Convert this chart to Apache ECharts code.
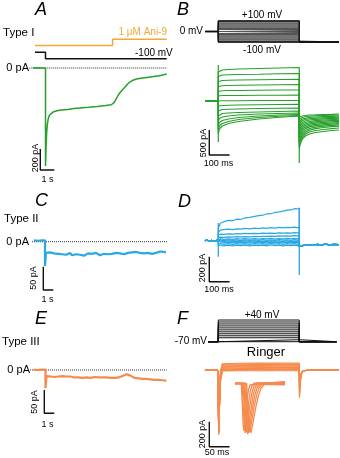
<!DOCTYPE html>
<html><head><meta charset="utf-8">
<script src="https://cdn.jsdelivr.net/npm/echarts@6/dist/echarts.min.js"></script>
<style>html,body{margin:0;padding:0;background:#fff}#c{width:340px;height:458px}</style>
</head><body><div id="c"></div>
<script>
// ================= DATA =================
// Panel A  (Type I) : time (s), current (pA)
const aTime = [-0.9,-0.6,-0.3,0,0,0.04,0.08,0.13,0.2,0.28,0.4,0.55,0.75,1.0,1.3,1.6,1.9,2.2,2.5,2.8,3.1,3.4,3.7,4.0,4.3,4.55,4.7,4.8,4.9,5.0,5.1,5.2,5.3,5.4,5.5,5.65,5.8,6.0,6.25,6.5,6.8,7.1,7.4,7.7,8.0,8.3,8.66];
const aCurrent = [0,2,-1,0,-933,-760,-620,-540,-480,-450,-432,-418,-410,-402,-398,-394,-388,-384,-380,-376,-373,-369,-366,-362,-358,-352,-350,-346,-330,-305,-282,-258,-238,-222,-208,-186,-162,-136,-116,-104,-97,-92,-87,-82,-76,-68,-58];
const aVoltTime = [-0.75,0,0,8.66];
const aVolt = [0,0,-100,-100];              // mV
const aAniTime = [-0.75,4.79,4.79,8.66];
const aAniConc = [0,0,1,1];                 // µM Ani-9

// Panel B (Type I, I-V family) : time (ms), current (pA)
const bVLevels = [-100,-90,-80,-70,-60,-50,-40,-30,-20,-10,0,10,20,30,40,50,60,70,80,90,100];
const bPreTime = -65;
const bTimes = [0,5,20,50,100,200,300,400];
const bSteps = [
 [580,610,620,630,640,650,660,670],
 [490,510,520,525,530,535,545,550],
 [390,400,410,415,420,425,430,435],
 [290,300,305,310,315,320,325,330],
 [190,200,205,210,210,215,220,220],
 [100,105,110,110,110,115,115,120],
 [0,0,5,5,5,10,10,10],
 [-100,-95,-90,-85,-80,-75,-70,-65],
 [-200,-180,-170,-165,-160,-150,-145,-140],
 [-300,-270,-250,-240,-230,-220,-210,-200],
 [-400,-350,-320,-300,-280,-260,-250,-240],
 [-500,-430,-390,-360,-330,-300,-280,-270],
 [-580,-500,-450,-410,-370,-330,-305,-290],
 [-660,-560,-500,-450,-410,-360,-325,-300]
];
const bTailTimes = [400,405,415,430,450,480,520,560,596];
const bTails = [
 [-320,-310,-300,-290,-280,-276,-270,-266,-260],
 [-360,-345,-330,-315,-305,-295,-290,-285,-280],
 [-400,-380,-360,-345,-330,-320,-312,-306,-300],
 [-440,-415,-390,-370,-355,-343,-335,-328,-322],
 [-490,-455,-425,-400,-380,-366,-356,-348,-342],
 [-540,-495,-460,-430,-410,-392,-380,-371,-364],
 [-590,-535,-495,-460,-435,-417,-404,-394,-386],
 [-640,-580,-530,-490,-462,-442,-428,-417,-408],
 [-690,-625,-565,-522,-490,-468,-452,-440,-430],
 [-740,-670,-600,-553,-518,-494,-476,-463,-452],
 [-790,-715,-640,-590,-550,-522,-502,-488,-476],
 [-840,-760,-680,-625,-583,-552,-530,-514,-502],
 [-890,-810,-720,-662,-620,-590,-570,-552,-540],
 [-940,-860,-760,-700,-660,-630,-610,-590,-580]
];
const bOnTransient = [720,-820];
const bOffTransient = [-300,-1240];

// Panel C (Type II) : time (s), current (pA)
const cTime = [-1.1,-0.9,-0.7,-0.5,-0.3,-0.1,0,0,0.1,0.3,0.5,0.7,0.9,1.1,1.3,1.5,1.7,1.9,2.1,2.3,2.5,2.7,2.9,3.1,3.3,3.5,3.7,3.9,4.1,4.3,4.5,4.7,4.9,5.1,5.3,5.5,5.7,5.9,6.1,6.3,6.5,6.7,6.9,7.1,7.3,7.5,7.7,7.9,8.1,8.3,8.5,8.7,8.9,9.1,9.3,9.5,9.7,9.9,10.1,10.3,10.5,10.7,10.9,11.1,11.3,11.5,11.7,11.9,12.1];
const cCurrent = [3,5,2,6,3,5,3,-52,-24,-21,-23,-22,-25,-23,-26,-24,-27,-25,-28,-26,-24,-29,-26,-27,-25,-28,-26,-30,-27,-25,-28,-26,-27,-24,-26,-29,-25,-26,-24,-27,-25,-26,-28,-24,-26,-25,-23,-27,-25,-24,-26,-23,-25,-22,-26,-24,-23,-25,-22,-24,-23,-26,-22,-24,-23,-21,-24,-22,-23];

// Panel D (Type II, I-V family) : time (ms), current (pA)
const dPreTime = [-66,-55,-44,-33,-22,-11,0];
const dPre = [0,4,-3,3,-4,2,0];
const dTimes = [0,10,25,50,72,90,110,130,155,180,200,220,238,260,280,300,320,340,360,375,388,400];
const dSteps = [
 [99,140,150,162,160,172,170,182,186,194,200,204,214,216,226,230,236,244,246,256,254,262],
 [70,84,88,92,88,94,92,98,94,100,97,102,99,104,101,106,102,106,104,108,105,107],
 [46,52,50,55,53,57,54,58,56,59,57,60,58,61,59,62,60,63,61,64,62,64],
 [24,28,27,31,29,32,30,33,31,34,33,35,34,37,35,38,36,39,37,40,38,40],
 [12,16,10,15,11,16,12,17,13,16,12,17,14,18,13,17,14,18,15,19,14,18],
 [4,6,0,7,2,6,1,7,3,6,2,8,3,7,2,8,4,7,3,8,4,6],
 [-6,-2,-8,-1,-7,-3,-8,-2,-6,-1,-7,-3,-8,-2,-6,-1,-7,-2,-8,-3,-6,-4],
 [-16,-10,-18,-12,-17,-11,-16,-12,-18,-11,-15,-12,-17,-11,-16,-12,-18,-12,-15,-11,-16,-13],
 [-28,-22,-30,-24,-29,-23,-28,-24,-30,-23,-27,-24,-29,-22,-28,-24,-30,-23,-27,-24,-28,-26],
 [-40,-34,-42,-36,-41,-35,-40,-36,-42,-35,-39,-36,-41,-34,-40,-36,-42,-35,-39,-36,-40,-38]
];
const dTailTimes = [400,405,415,430,450,470,490,510,530,550,570,596];
const dTail = [-48,-44,-40,-36,-32,-36,-30,-34,-28,-33,-30,-32];
const dOnTransient = [142,-128];
const dOffTransient = [262,-275];

// Panel E (Type III) : time (s), current (pA)
const eTime = [-1.2,-1.0,-0.8,-0.6,-0.4,-0.2,0,0,0.1,0.3,0.5,0.7,0.9,1.1,1.3,1.5,1.7,1.9,2.1,2.3,2.5,2.7,2.9,3.1,3.3,3.5,3.7,3.9,4.1,4.3,4.5,4.7,4.9,5.1,5.3,5.5,5.7,5.9,6.1,6.3,6.5,6.7,6.9,7.1,7.3,7.5,7.7,7.9,8.1,8.3,8.5,8.7,8.9,9.1,9.3,9.5,9.7,9.9,10.1,10.3,10.5,10.7,10.9,11.1,11.3,11.5,11.7,11.9,12.1];
const eCurrent = [1,3,0,2,1,3,1,-39,-13,-12,-14,-13,-15,-13,-14,-15,-13,-15,-14,-16,-14,-15,-16,-14,-16,-15,-17,-15,-16,-15,-17,-16,-15,-17,-16,-18,-16,-17,-16,-18,-17,-16,-17,-15,-16,-14,-13,-11,-9,-10,-12,-15,-17,-16,-18,-17,-19,-18,-19,-18,-20,-19,-21,-20,-21,-20,-22,-21,-23];

// Panel F (Type III, Ringer) : time (ms), current (pA)
const fVLevels = [-70,-60,-50,-40,-30,-20,-10,0,10,20,30,40];
const fPreTime = [-33,-29,-25,-21,-17,-13,-9,-5,-1,0];
const fPre = [0,3,-2,2,-3,3,-1,2,-2,0];
const fStepTimes = [0,1,5,10,50,100,150,200];
const fSteps = [
 [0,-520,-20,50,54,55,56,56],
 [0,-505,-30,44,48,49,50,50],
 [0,-495,-40,38,42,43,44,44],
 [0,-510,-45,32,36,37,38,38],
 [0,-490,-50,26,30,31,32,32],
 [0,-500,-55,20,24,25,26,26],
 [0,-480,-60,14,18,19,20,20],
 [0,-470,-60,8,12,13,14,14],
 [0,-460,-70,4,7,8,8,9],
 [0,-440,-80,0,3,4,4,4],
 [0,-420,-90,-4,-1,0,0,0],
 [0,-380,-100,-8,-6,-6,-6,-6]
];
const fOffSpike = [-222,-200,-180,-160,-140,-120,-100,-90,-80,-70,-60,-50];
const fTailTimes = [204,208,215,230,245,260,275,290,298];
const fTail = [-40,-12,-4,2,-2,3,-2,2,0];
// inset (Na currents, expanded time base) : time (ms), current (pA)
const fInset = [
 [[-0.6,0],[0.03,0],[0.15,-200],[0.22,-340],[0.3,-380],[0.45,-252],[0.6,-132],[0.75,-52],[0.9,-12],[1.1,4],[4.4,14]],
 [[-0.6,0],[0.12,0],[0.24,-210],[0.35,-360],[0.43,-396],[0.6,-270],[0.77,-150],[0.93,-60],[1.1,-16],[1.3,2],[4.4,10]],
 [[-0.6,0],[0.21,0],[0.33,-200],[0.46,-350],[0.55,-388],[0.73,-275],[0.92,-160],[1.1,-70],[1.3,-20],[1.55,2],[4.4,6]],
 [[-0.6,0],[0.3,0],[0.42,-210],[0.57,-365],[0.66,-404],[0.85,-290],[1.05,-175],[1.25,-80],[1.47,-25],[1.75,0],[4.4,2]],
 [[-0.6,0],[0.39,0],[0.51,-200],[0.68,-360],[0.77,-396],[0.97,-290],[1.18,-180],[1.4,-90],[1.63,-30],[1.95,-2],[4.4,-2]],
 [[-0.6,0],[0.48,0],[0.6,-195],[0.79,-350],[0.88,-388],[1.1,-290],[1.32,-185],[1.56,-95],[1.8,-35],[2.15,-4],[4.4,-6]],
 [[-0.6,0],[0.57,0],[0.7,-200],[0.91,-360],[1.0,-396],[1.23,-300],[1.47,-195],[1.72,-105],[1.98,-40],[2.35,-6],[4.4,-10]]
];

// ================= BUILD =================
const GREEN='#26a02a', BLUE='#2aa8e2', ORANGE='#f68a4c', ANI='#f3a935', BLACK='#111';
const FONT='"Liberation Sans", Arial, sans-serif';
const grids=[], xAxes=[], yAxes=[], series=[], graphics=[];
function panel(rect, xa, ya){
  const gi=grids.length;
  grids.push({left:rect[0],top:rect[1],width:rect[2],height:rect[3],show:false,containLabel:false});
  xAxes.push({type:'value',gridIndex:gi,show:false,min:xa[1]-(xa[0]-rect[0])*xa[2],max:xa[1]+(rect[0]+rect[2]-xa[0])*xa[2]});
  yAxes.push({type:'value',gridIndex:gi,show:false,min:ya[1]-(rect[1]+rect[3]-ya[0])*ya[2],max:ya[1]+(ya[0]-rect[1])*ya[2]});
  return gi;
}
function line(gi, pts, color, width, dash, z){
  series.push({type:'line',xAxisIndex:gi,yAxisIndex:gi,data:pts,symbol:'none',showSymbol:false,silent:true,
    animation:false,z:z||2,lineStyle:{color:color,width:width,type:dash||'solid'}});
}
const zip=(xs,ys)=>xs.map((x,i)=>[x,ys[i]]);
function scaleBar(gi,x0,yTop,yLen,xLen){
  line(gi,[[x0,yTop],[x0,yTop-yLen],[x0+xLen,yTop-yLen]],BLACK,1.4,null,5);
}
function txt(s,x,y,size,opt){
  opt=opt||{};
  graphics.push({type:'text',x:x,y:y,rotation:opt.rot||0,silent:true,z:10,
    style:{text:s,fill:opt.color||'#000',font:(opt.italic?'italic ':'')+size+'px '+FONT,
      align:opt.align||'left',textAlign:opt.align||'left',verticalAlign:'middle',textVerticalAlign:'middle'}});
}

// ---- Panel A ----
const gAv = panel([25,28,150,35],[45.5,0,1/14],[52.3,0,15.625]);
const gAs = panel([25,28,150,35],[45.5,0,1/14],[45.6,0,1/6.3]);
const gA  = panel([25,60,150,130],[45.5,0,1/14],[68,0,9.52]);
line(gAv, zip(aVoltTime,aVolt), BLACK, 1.5);
line(gAs, zip(aAniTime,aAniConc), ANI, 1.5);
line(gA, [[-1.16,0],[8.66,0]], '#333', 1, 'dotted', 1);
line(gA, zip(aTime,aCurrent), GREEN, 1.5);
scaleBar(gA, -0.371, -771, 200, 1);

// ---- Panel B ----
const gBv = panel([200,12,140,40],[218.3,0,4.94],[31.5,0,100/10.5]);
const gB  = panel([200,55,140,115],[218.3,0,4.94],[101,0,20]);
bVLevels.forEach(v=>line(gBv,[[bPreTime,0],[0,0],[0,v],[400,v],[400,-100],[596,-100]],'#555',1.1));
[100,-100].forEach(v=>line(gBv,[[bPreTime,0],[0,0],[0,v],[400,v],[400,-100],[596,-100]],BLACK,1.3,null,3));
bSteps.forEach((s,i)=>{
  line(gB, [[bPreTime,0],[0,0]].concat(zip(bTimes,s), zip(bTailTimes,bTails[i])), GREEN, 1.2);
});
line(gB, [[0,bOnTransient[0]],[0,bOnTransient[1]]], GREEN, 1.2);
line(gB, [[400,bOffTransient[0]],[400,bOffTransient[1]]], GREEN, 1.2);
scaleBar(gB, -44.5, -580, 500, 100);

// ---- Panel C ----
const gC = panel([25,225,150,80],[45,0,0.1],[241.7,0,2.146]);
line(gC, [[-1.3,0],[12.2,0]], '#333', 1, 'dotted', 1);
line(gC, zip(cTime,cCurrent), BLUE, 2.2);
scaleBar(gC, -0.17, -53.7, 50, 1);

// ---- Panel D ----
const gD = panel([200,200,140,90],[218.3,0,4.94],[240.7,0,8]);
dSteps.forEach(s=>{
  line(gD, zip(dPreTime,dPre).concat(zip(dTimes,s), zip(dTailTimes,dTail)), BLUE, 1.2);
});
line(gD, [[0,dOnTransient[0]],[0,dOnTransient[1]]], BLUE, 1.3);
line(gD, [[400,dOffTransient[0]],[400,dOffTransient[1]]], BLUE, 1.3);
scaleBar(gD, -44.5, -128, 200, 100);

// ---- Panel E ----
const gE = panel([25,355,150,65],[45.5,0,0.1],[370,0,2.146]);
line(gE, [[-1.55,0],[12.12,0]], '#333', 1, 'dotted', 1);
line(gE, zip(eTime,eCurrent), ORANGE, 2.2);
scaleBar(gE, -0.12, -42.9, 50, 1);

// ---- Panel F ----
const gFv = panel([200,312,140,35],[218.3,0,2.47],[341.7,-70,110/21.7]);
const gF  = panel([200,355,140,95],[218.3,0,2.47],[370,0,8]);
const gFi = panel([230,375,60,65],[241,0,0.1],[383.5,0,8]);
fVLevels.forEach(v=>line(gFv,[[-25,-70],[0,-70],[0,v],[200,v],[200,-70],[292,-70]],BLACK,1));
fSteps.forEach((s,i)=>{
  line(gF, zip(fPreTime,fPre).concat(zip(fStepTimes,s),[[200.5,fOffSpike[i]]], zip(fTailTimes,fTail)), ORANGE, 1.2);
});
fInset.forEach(tr=>line(gFi, tr, ORANGE, 1.3));
scaleBar(gF, -22.2, -413.6, 200, 50);

// ---- Text ----
txt('A',35,10,18,{italic:true}); txt('B',177,10,18,{italic:true});
txt('C',35,201,18,{italic:true}); txt('D',178,202,18,{italic:true});
txt('E',35,319,18,{italic:true}); txt('F',177,319,18,{italic:true});
txt('Type I',3,33,11.5); txt('Type II',4,219,11.5); txt('Type III',2,342,11.5);
txt('1 μM Ani-9',167,32,10,{align:'right',color:ANI});
txt('-100 mV',135,53,10);
txt('0 pA',29,68,11,{align:'right'}); txt('0 pA',29,241.7,11,{align:'right'}); txt('0 pA',30,370,11,{align:'right'});
txt('0 mV',203,31,10,{align:'right'});
txt('+100 mV',262,15,10,{align:'center'}); txt('-100 mV',262,50,10,{align:'center'});
txt('-70 mV',207,341.5,10,{align:'right'}); txt('+40 mV',262,315.5,10,{align:'center'});
txt('Ringer',266,352,13,{align:'center'});
txt('200 pA',35.5,158,9,{align:'center',rot:Math.PI/2}); txt('1 s',47.5,179.5,9,{align:'center'});
txt('500 pA',203.5,143,9,{align:'center',rot:Math.PI/2}); txt('100 ms',218.5,164,9,{align:'center'});
txt('50 pA',33.5,278,9,{align:'center',rot:Math.PI/2}); txt('1 s',47.5,300,9,{align:'center'});
txt('200 pA',202.5,268,9,{align:'center',rot:Math.PI/2}); txt('100 ms',219,289.5,9,{align:'center'});
txt('50 pA',34.5,402,9,{align:'center',rot:Math.PI/2}); txt('1 s',47.5,425,9,{align:'center'});
txt('200 pA',203,434,9,{align:'center',rot:Math.PI/2}); txt('50 ms',217,453,9,{align:'center'});

const chart = echarts.init(document.getElementById('c'), null, {renderer:'canvas'});
chart.setOption({animation:false, backgroundColor:'#fff', grid:grids, xAxis:xAxes, yAxis:yAxes, series:series, graphic:{elements:graphics}});
</script></body></html>
